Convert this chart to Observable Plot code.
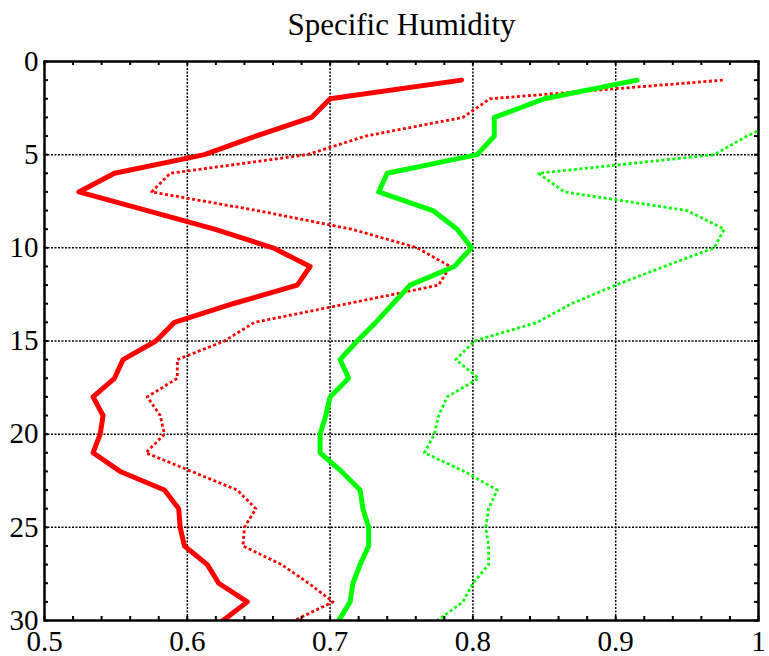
<!DOCTYPE html>
<html>
<head>
<meta charset="utf-8">
<script src="https://cdn.jsdelivr.net/npm/d3@7"></script>
<script src="https://cdn.jsdelivr.net/npm/@observablehq/plot@0.6"></script>
<style>
  html, body { margin: 0; padding: 0; background: white; }
</style>
</head>
<body>
<div id="chart"></div>
<script>
// ---- data ----
const title = "Specific Humidity";
const levels = [1,2,3,4,5,6,7,8,9,10,11,12,13,14,15,16,17,18,19,20,21,22,23,24,25,26,27,28,29,30];
const redSolid   = [0.792,0.700,0.687,0.648,0.612,0.549,0.524,0.572,0.619,0.660,0.686,0.677,0.632,0.591,0.578,0.555,0.549,0.534,0.541,0.539,0.534,0.553,0.584,0.594,0.595,0.598,0.614,0.622,0.642,0.625];
const redDotted  = [0.975,0.812,0.793,0.725,0.684,0.588,0.575,0.649,0.715,0.761,0.784,0.776,0.712,0.647,0.626,0.593,0.593,0.572,0.581,0.584,0.571,0.603,0.635,0.648,0.640,0.639,0.666,0.685,0.702,0.675];
const greenSolid = [0.915,0.850,0.815,0.815,0.803,0.740,0.734,0.772,0.789,0.799,0.787,0.756,0.744,0.732,0.719,0.707,0.713,0.700,0.697,0.693,0.693,0.708,0.721,0.723,0.727,0.727,0.721,0.716,0.714,0.706];
const greenDotted= [null,null,1.02,0.992,0.969,0.846,0.864,0.950,0.976,0.969,0.934,0.900,0.869,0.845,0.801,0.788,0.804,0.782,0.776,0.773,0.766,0.794,0.817,0.811,0.809,0.811,0.811,0.800,0.793,0.775];

const xTicks = [0.5,0.6,0.7,0.8,0.9,1.0];
const xTickLabels = ["0.5","0.6","0.7","0.8","0.9","1"];
const yTicks = [0,5,10,15,20,25,30];
const yTickLabels = ["0","5","10","15","20","25","30"];
const xMinor = d3.range(0, 26).map(i => 0.5 + i * 0.02);
const yMinor = d3.range(0, 31);

// ---- layout ----
const W = 769, H = 656;
const mTop = 61, mLeft = 44, mRight = 11, mBottom = 36;
const innerH = H - mTop - mBottom;
const innerW = W - mLeft - mRight;
const tickLen = 4;
const font = "Liberation Serif";

const rows = (vals) => levels.map((lv, i) => ({level: lv, value: vals[i]}));

const chart = Plot.plot({
  width: W,
  height: H,
  marginTop: mTop,
  marginLeft: mLeft,
  marginRight: mRight,
  marginBottom: mBottom,
  style: {fontFamily: font, background: "white", color: "black"},
  x: {domain: [0.5, 1.0], label: null},
  y: {domain: [0, 30], reverse: true, label: null},
  marks: [
    // grid
    Plot.gridX(xTicks.slice(1, -1), {stroke: "black", strokeOpacity: 1, strokeWidth: 1.5, strokeDasharray: "2,1.5"}),
    Plot.gridY(yTicks.slice(1, -1), {stroke: "black", strokeOpacity: 1, strokeWidth: 1.5, strokeDasharray: "2,1.5"}),
    // series
    Plot.line(rows(redSolid),   {x: "value", y: "level", stroke: "#ff0000", strokeWidth: 5, strokeLinejoin: "round", clip: true}),
    Plot.line(rows(redDotted),  {x: "value", y: "level", stroke: "#ff0000", strokeWidth: 2.8, strokeDasharray: "3 2.5", strokeLinecap: "butt", clip: true}),
    Plot.line(rows(greenSolid), {x: "value", y: "level", stroke: "#00ff00", strokeWidth: 5, strokeLinejoin: "round", clip: true}),
    Plot.line(rows(greenDotted),{x: "value", y: "level", stroke: "#00ff00", strokeWidth: 2.8, strokeDasharray: "3 2.5", strokeLinecap: "butt", clip: true}),
    // inward minor ticks on all four sides
    Plot.tickX(xMinor, {x: d => d, stroke: "black", strokeWidth: 2, insetTop: innerH - tickLen}),
    Plot.tickX(xMinor, {x: d => d, stroke: "black", strokeWidth: 2, insetBottom: innerH - tickLen}),
    Plot.tickY(yMinor, {y: d => d, stroke: "black", strokeWidth: 2, insetRight: innerW - tickLen}),
    Plot.tickY(yMinor, {y: d => d, stroke: "black", strokeWidth: 2, insetLeft: innerW - tickLen}),
    // axis labels
    Plot.axisX(xTicks, {anchor: "bottom", tickSize: 0, tickPadding: 10, fontSize: 29, label: null,
      tickFormat: d => xTickLabels[xTicks.indexOf(d)]}),
    Plot.axisY(yTicks, {anchor: "left", tickSize: 0, tickPadding: 6, fontSize: 29, label: null,
      tickFormat: d => yTickLabels[yTicks.indexOf(d)]}),
    // frame
    Plot.frame({stroke: "black", strokeWidth: 2.5}),
    // title
    Plot.text([title], {frameAnchor: "top", dy: -36, text: d => d, fontSize: 31, fill: "black", lineAnchor: "middle"})
  ]
});
document.getElementById("chart").appendChild(chart);
</script>
</body>
</html>
